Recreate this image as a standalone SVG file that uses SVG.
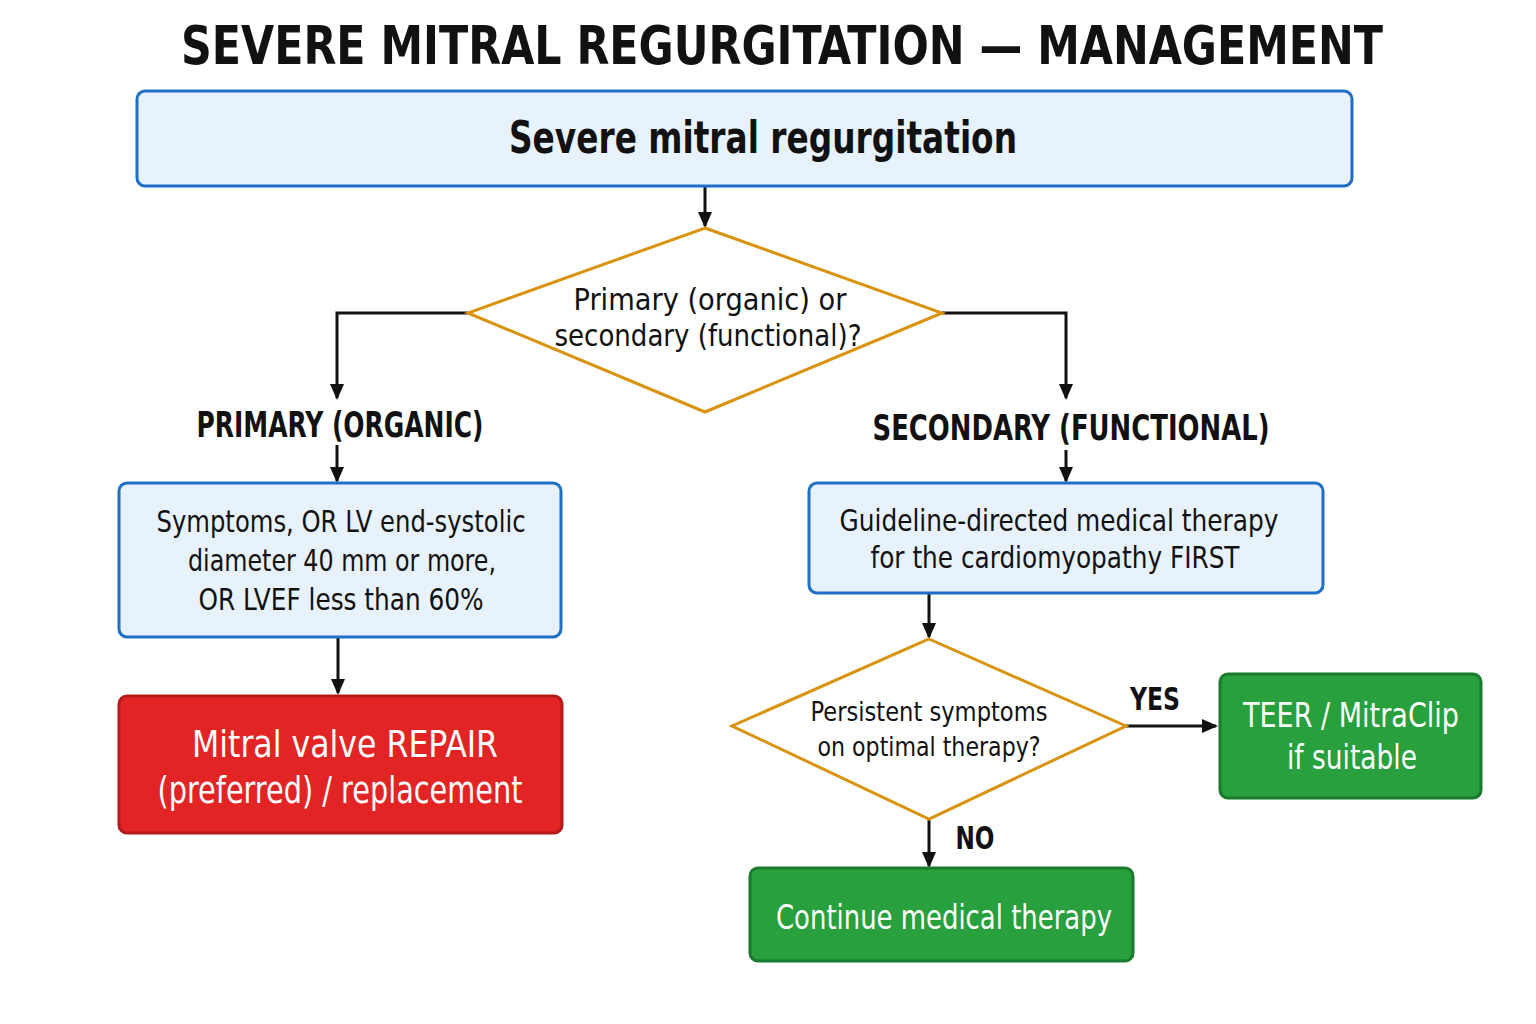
<svg xmlns="http://www.w3.org/2000/svg" width="1536" height="1024" viewBox="0 0 1536 1024">
<defs>
<marker id="ah" markerWidth="16" markerHeight="16" refX="14" refY="8" orient="auto" markerUnits="userSpaceOnUse" viewBox="0 0 16 16"><path d="M0,1 L16,8 L0,15 z" fill="#111"/></marker>
</defs>
<style>
text{font-family:"DejaVu Sans Condensed","Liberation Sans Narrow","Roboto",sans-serif;text-anchor:middle;fill:#111}
.blue{fill:#e8f2fd;stroke:#1f6fc5;stroke-width:3}
.dia{fill:#fff;stroke:#d9930f;stroke-width:3}
.red{fill:#e32424;stroke:#b51a1a;stroke-width:3}
.green{fill:#27a03d;stroke:#1a7a2d;stroke-width:3}
.w{fill:#fff}
.c{fill:none;stroke:#111;stroke-width:3;marker-end:url(#ah)}
</style>
<rect width="1536" height="1024" fill="#fff"/>
<text x="782" y="64" font-size="54" font-weight="bold" textLength="1202" lengthAdjust="spacingAndGlyphs">SEVERE MITRAL REGURGITATION — MANAGEMENT</text>
<g id="connectors">
<path class="c" d="M705,186 V226"/>
<path class="c" d="M468,313 H337 V398"/>
<path class="c" d="M942,313 H1066 V398"/>
<path class="c" d="M337,445 V481"/>
<path class="c" d="M338,637 V693"/>
<path class="c" d="M1066,450 V481"/>
<path class="c" d="M929,593 V637"/>
<path class="c" d="M1126,726 H1216"/>
<path class="c" d="M929,819 V866"/>
<text x="1155" y="710" font-size="32" font-weight="bold" textLength="50" lengthAdjust="spacingAndGlyphs">YES</text>
<text x="975" y="849" font-size="32" font-weight="bold" textLength="39" lengthAdjust="spacingAndGlyphs">NO</text>
</g>
<g id="start"><rect class="blue" x="137" y="91" width="1215" height="95" rx="8"/><text x="763" y="153" font-size="44" font-weight="bold" textLength="508" lengthAdjust="spacingAndGlyphs">Severe mitral regurgitation</text></g>
<g id="d1"><polygon class="dia" points="705,228 942,313 705,412 468,313"/><text x="710" y="310" font-size="31" textLength="273" lengthAdjust="spacingAndGlyphs">Primary (organic) or</text><text x="708" y="346" font-size="31" textLength="307" lengthAdjust="spacingAndGlyphs">secondary (functional)?</text></g>
<g id="lab1"><text x="340" y="437" font-size="36" font-weight="bold" textLength="287" lengthAdjust="spacingAndGlyphs">PRIMARY (ORGANIC)</text></g>
<g id="lab2"><text x="1071" y="440" font-size="36" font-weight="bold" textLength="397" lengthAdjust="spacingAndGlyphs">SECONDARY (FUNCTIONAL)</text></g>
<g id="crit"><rect class="blue" x="119" y="483" width="442" height="154" rx="8"/><text x="341" y="532" font-size="30" textLength="369" lengthAdjust="spacingAndGlyphs">Symptoms, OR LV end-systolic</text><text x="342" y="571" font-size="30" textLength="308" lengthAdjust="spacingAndGlyphs">diameter 40 mm or more,</text><text x="341" y="610" font-size="30" textLength="285" lengthAdjust="spacingAndGlyphs">OR LVEF less than 60%</text></g>
<g id="repair"><rect class="red" x="119" y="696" width="443" height="137" rx="8"/><text class="w" x="345" y="757" font-size="38" textLength="306" lengthAdjust="spacingAndGlyphs">Mitral valve REPAIR</text><text class="w" x="340" y="803" font-size="38" textLength="365" lengthAdjust="spacingAndGlyphs">(preferred) / replacement</text></g>
<g id="gdmt"><rect class="blue" x="809" y="483" width="514" height="110" rx="8"/><text x="1059" y="531" font-size="30" textLength="439" lengthAdjust="spacingAndGlyphs">Guideline-directed medical therapy</text><text x="1055" y="568" font-size="30" textLength="369" lengthAdjust="spacingAndGlyphs">for the cardiomyopathy FIRST</text></g>
<g id="d2"><polygon class="dia" points="929,639 1126,726 929,819 732,726"/><text x="929" y="721" font-size="27" textLength="237" lengthAdjust="spacingAndGlyphs">Persistent symptoms</text><text x="929" y="756" font-size="27" textLength="223" lengthAdjust="spacingAndGlyphs">on optimal therapy?</text></g>
<g id="teer"><rect class="green" x="1220" y="674" width="261" height="124" rx="8"/><text class="w" x="1351" y="727" font-size="34" textLength="216" lengthAdjust="spacingAndGlyphs">TEER / MitraClip</text><text class="w" x="1352" y="769" font-size="34" textLength="130" lengthAdjust="spacingAndGlyphs">if suitable</text></g>
<g id="cont"><rect class="green" x="750" y="868" width="383" height="93" rx="8"/><text class="w" x="944" y="929" font-size="34" textLength="336" lengthAdjust="spacingAndGlyphs">Continue medical therapy</text></g>
</svg>
